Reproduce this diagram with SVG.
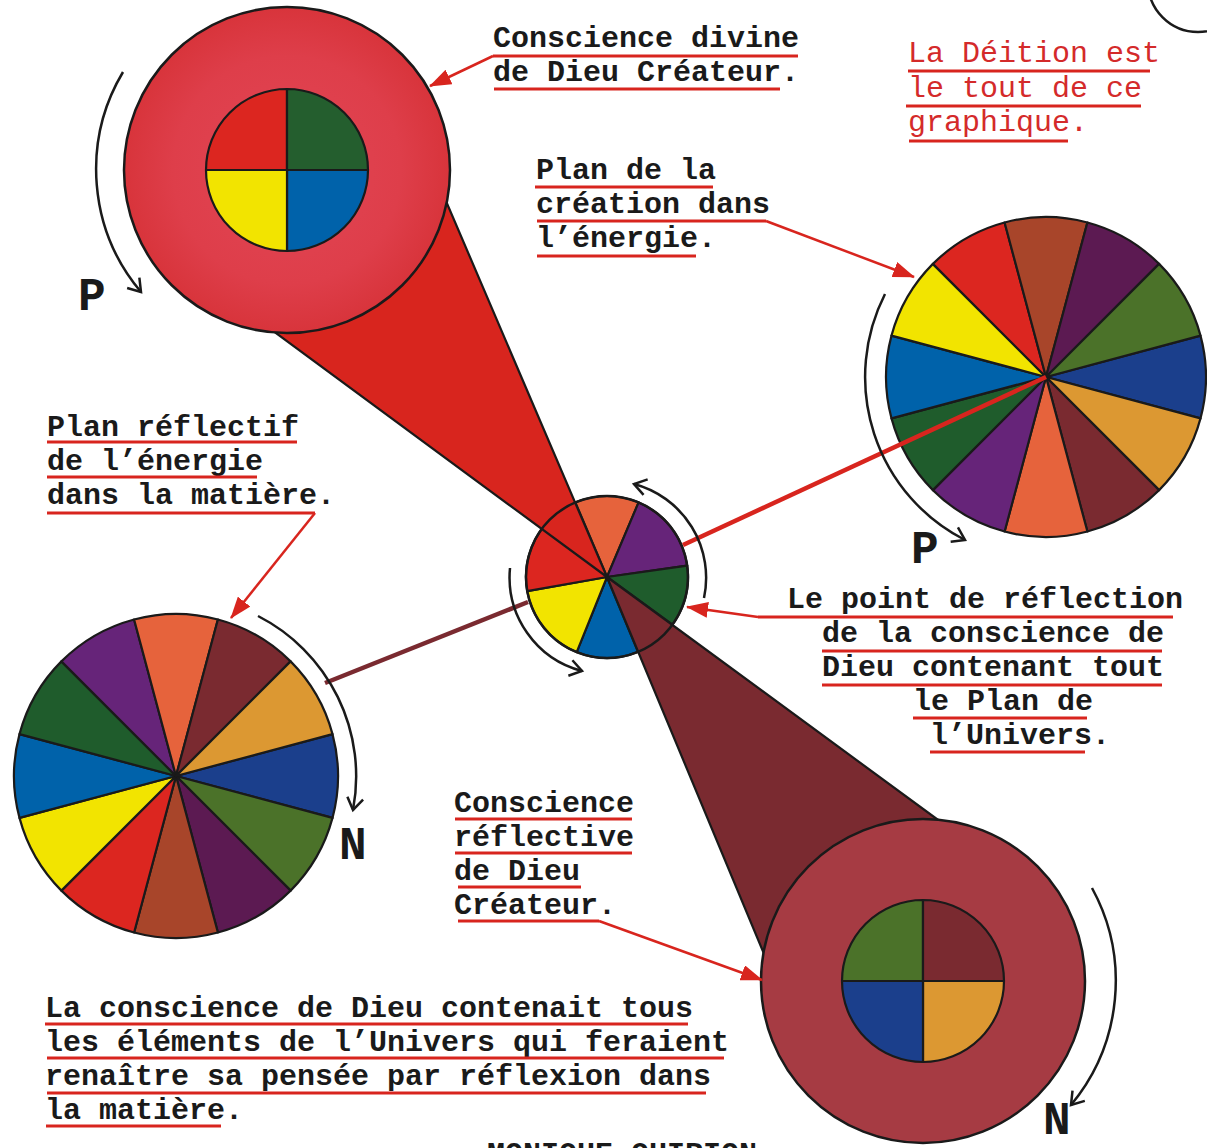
<svg xmlns="http://www.w3.org/2000/svg" width="1207" height="1148" viewBox="0 0 1207 1148">
<style>
.t{font-family:"Liberation Mono","Courier New",monospace;font-size:30px;font-weight:bold;fill:#1a1a1a}
.r{font-family:"Liberation Mono","Courier New",monospace;font-size:30px;fill:#d42a2a}
.lbl{font-family:"Liberation Mono","Courier New",monospace;font-size:46px;font-weight:bold;fill:#1a1a1a}
.u{stroke:#d8251e;stroke-width:3;fill:none}
.ptr{stroke:#d8251e;stroke-width:2.5;fill:none;marker-end:url(#ah)}
.rot{stroke:#1a1a1a;stroke-width:2.5;fill:none;marker-end:url(#ch)}
.s{stroke:#1a1a1a;stroke-width:2.2;stroke-linejoin:round}
</style>
<defs>
<radialGradient id="g1" cx="50%" cy="50%" r="50%">
<stop offset="0" stop-color="#e24656"/>
<stop offset="0.7" stop-color="#de3e4a"/>
<stop offset="1" stop-color="#d8343b"/>
</radialGradient>
<marker id="ah" markerUnits="userSpaceOnUse" markerWidth="22" markerHeight="16" refX="21" refY="8" orient="auto">
<path d="M0,0 L22,8 L0,16 Z" fill="#d8251e"/>
</marker>
<marker id="ch" markerUnits="userSpaceOnUse" markerWidth="20" markerHeight="20" refX="14" refY="10" orient="auto">
<path d="M2,2 L14,10 L2,18" fill="none" stroke="#1a1a1a" stroke-width="2.5"/>
</marker>
</defs>
<rect width="1207" height="1148" fill="#ffffff"/>

<g id="center-point">
<path class="s" fill="#7a2a30" d="M607,577 L672.5,624.6 A81,81 0 0 1 638,651.8 Z"/>
<path class="s" fill="#0062aa" d="M607,577 L638,651.8 A81,81 0 0 1 576.7,652.1 Z"/>
<path class="s" fill="#f2e400" d="M607,577 L576.7,652.1 A81,81 0 0 1 527.2,591.1 Z"/>
<path class="s" fill="#dc2620" d="M607,577 L527.2,591.1 A81,81 0 0 1 575.4,502.4 Z"/>
<path class="s" fill="#e6633c" d="M607,577 L575.4,502.4 A81,81 0 0 1 638.6,502.4 Z"/>
<path class="s" fill="#662479" d="M607,577 L638.6,502.4 A81,81 0 0 1 687.2,565.7 Z"/>
<path class="s" fill="#1f5c2c" d="M607,577 L687.2,565.7 A81,81 0 0 1 672.5,624.6 Z"/>
</g>

<g id="cones">
<polygon class="s" fill="#d8251e" points="607,577 410,117 204,280"/>
<polygon class="s" fill="#7a2a30" points="607,577 1005,869 797,1033"/>
</g>
<circle cx="607" cy="577" r="81" fill="none" stroke="#1a1a1a" stroke-width="2.5"/>

<g id="divine-consciousness">
<circle cx="287" cy="170" r="163" fill="url(#g1)" stroke="#1a1a1a" stroke-width="2.5"/>
<path class="s" fill="#dc2620" d="M287,170 L206,170 A81,81 0 0 1 287,89 Z"/>
<path class="s" fill="#245e2e" d="M287,170 L287,89 A81,81 0 0 1 368,170 Z"/>
<path class="s" fill="#0062aa" d="M287,170 L368,170 A81,81 0 0 1 287,251 Z"/>
<path class="s" fill="#f2e400" d="M287,170 L287,251 A81,81 0 0 1 206,170 Z"/>
</g>

<g id="reflective-consciousness">
<circle cx="923" cy="981" r="162" fill="#a63b43" stroke="#1a1a1a" stroke-width="2.5"/>
<path class="s" fill="#4b7229" d="M923,981 L842,981 A81,81 0 0 1 923,900 Z"/>
<path class="s" fill="#7a2a30" d="M923,981 L923,900 A81,81 0 0 1 1004,981 Z"/>
<path class="s" fill="#dc9832" d="M923,981 L1004,981 A81,81 0 0 1 923,1062 Z"/>
<path class="s" fill="#1b3f8c" d="M923,981 L923,1062 A81,81 0 0 1 842,981 Z"/>
</g>

<g id="creation-plan">
<path class="s" fill="#1b3f8c" d="M1046,377 L1200.5,335.6 A160,160 0 0 1 1200.5,418.4 Z"/>
<path class="s" fill="#dc9832" d="M1046,377 L1200.5,418.4 A160,160 0 0 1 1159.1,490.1 Z"/>
<path class="s" fill="#7a2a30" d="M1046,377 L1159.1,490.1 A160,160 0 0 1 1087.4,531.5 Z"/>
<path class="s" fill="#e6633c" d="M1046,377 L1087.4,531.5 A160,160 0 0 1 1004.6,531.5 Z"/>
<path class="s" fill="#662479" d="M1046,377 L1004.6,531.5 A160,160 0 0 1 932.9,490.1 Z"/>
<path class="s" fill="#1f5c2c" d="M1046,377 L932.9,490.1 A160,160 0 0 1 891.5,418.4 Z"/>
<path class="s" fill="#0062aa" d="M1046,377 L891.5,418.4 A160,160 0 0 1 891.5,335.6 Z"/>
<path class="s" fill="#f2e400" d="M1046,377 L891.5,335.6 A160,160 0 0 1 932.9,263.9 Z"/>
<path class="s" fill="#dc2620" d="M1046,377 L932.9,263.9 A160,160 0 0 1 1004.6,222.5 Z"/>
<path class="s" fill="#a8452a" d="M1046,377 L1004.6,222.5 A160,160 0 0 1 1087.4,222.5 Z"/>
<path class="s" fill="#5c1a52" d="M1046,377 L1087.4,222.5 A160,160 0 0 1 1159.1,263.9 Z"/>
<path class="s" fill="#4b7229" d="M1046,377 L1159.1,263.9 A160,160 0 0 1 1200.5,335.6 Z"/>
</g>

<g id="reflective-plan">
<path class="s" fill="#1b3f8c" d="M176,776 L332.5,734.1 A162,162 0 0 1 332.5,817.9 Z"/>
<path class="s" fill="#4b7229" d="M176,776 L332.5,817.9 A162,162 0 0 1 290.6,890.6 Z"/>
<path class="s" fill="#5c1a52" d="M176,776 L290.6,890.6 A162,162 0 0 1 217.9,932.5 Z"/>
<path class="s" fill="#a8452a" d="M176,776 L217.9,932.5 A162,162 0 0 1 134.1,932.5 Z"/>
<path class="s" fill="#dc2620" d="M176,776 L134.1,932.5 A162,162 0 0 1 61.4,890.6 Z"/>
<path class="s" fill="#f2e400" d="M176,776 L61.4,890.6 A162,162 0 0 1 19.5,817.9 Z"/>
<path class="s" fill="#0062aa" d="M176,776 L19.5,817.9 A162,162 0 0 1 19.5,734.1 Z"/>
<path class="s" fill="#1f5c2c" d="M176,776 L19.5,734.1 A162,162 0 0 1 61.4,661.4 Z"/>
<path class="s" fill="#662479" d="M176,776 L61.4,661.4 A162,162 0 0 1 134.1,619.5 Z"/>
<path class="s" fill="#e6633c" d="M176,776 L134.1,619.5 A162,162 0 0 1 217.9,619.5 Z"/>
<path class="s" fill="#7a2a30" d="M176,776 L217.9,619.5 A162,162 0 0 1 290.6,661.4 Z"/>
<path class="s" fill="#dc9832" d="M176,776 L290.6,661.4 A162,162 0 0 1 332.5,734.1 Z"/>
</g>

<g id="connectors">
<line x1="683" y1="545" x2="1046" y2="377" stroke="#d8251e" stroke-width="4.5"/>
<line x1="528" y1="602" x2="325" y2="683" stroke="#7a2a30" stroke-width="4.5"/>
<path class="ptr" d="M493,56 L430,86"/>
<path class="ptr" d="M766,221 L914,277"/>
<path class="ptr" d="M315,513 L231,618"/>
<path class="ptr" d="M758,617 L687,607"/>
<path class="ptr" d="M599,921 L762,980"/>
<path class="rot" d="M123,72 A190,190 0 0 0 141,292"/>
<path class="rot" d="M885,294 A183,183 0 0 0 965,540"/>
<path class="rot" d="M704,598 A97,97 0 0 0 634,484"/>
<path class="rot" d="M510,568 A97,97 0 0 0 582,671"/>
<path class="rot" d="M258,616 A180,180 0 0 1 353,810"/>
<path class="rot" d="M1092,888 A194,194 0 0 1 1071,1105"/>
<circle cx="1198" cy="-18" r="50" fill="none" stroke="#1a1a1a" stroke-width="2.5"/>
</g>

<g id="labels">
<text class="lbl" x="78" y="310">P</text>
<text class="lbl" x="911" y="563">P</text>
<text class="lbl" x="339" y="859">N</text>
<text class="lbl" x="1043" y="1134">N</text>
</g>

<g id="text-divine">
<text class="t" x="493" y="47">Conscience divine</text>
<text class="t" x="493" y="81">de Dieu Créateur.</text>
<line class="u" x1="493" y1="56" x2="798" y2="56"/>
<line class="u" x1="494" y1="89" x2="780" y2="89"/>
</g>

<g id="text-deition">
<text class="r" x="908" y="62">La Déition est</text>
<text class="r" x="908" y="97">le tout de ce</text>
<text class="r" x="908" y="131">graphique.</text>
<line class="u" x1="908" y1="71" x2="1150" y2="71"/>
<line class="u" x1="906" y1="106" x2="1141" y2="106"/>
<line class="u" x1="909" y1="141" x2="1068" y2="141"/>
</g>

<g id="text-creation">
<text class="t" x="536" y="179">Plan de la</text>
<text class="t" x="536" y="213">création dans</text>
<text class="t" x="536" y="247">l’énergie.</text>
<line class="u" x1="535" y1="187" x2="713" y2="187"/>
<line class="u" x1="537" y1="221" x2="766" y2="221"/>
<line class="u" x1="537" y1="256" x2="696" y2="256"/>
</g>

<g id="text-reflective-plan">
<text class="t" x="47" y="436">Plan réflectif</text>
<text class="t" x="47" y="470">de l’énergie</text>
<text class="t" x="47" y="504">dans la matière.</text>
<line class="u" x1="47" y1="442" x2="297" y2="442"/>
<line class="u" x1="47" y1="477" x2="257" y2="477"/>
<line class="u" x1="47" y1="513" x2="315" y2="513"/>
</g>

<g id="text-point">
<text class="t" x="787" y="608">Le point de réflection</text>
<text class="t" x="822" y="642">de la conscience de</text>
<text class="t" x="822" y="676">Dieu contenant tout</text>
<text class="t" x="913" y="710">le Plan de</text>
<text class="t" x="930" y="744">l’Univers.</text>
<line class="u" x1="758" y1="617" x2="1173" y2="617"/>
<line class="u" x1="822" y1="651" x2="1162" y2="651"/>
<line class="u" x1="822" y1="685" x2="1162" y2="685"/>
<line class="u" x1="913" y1="718" x2="1087" y2="718"/>
<line class="u" x1="930" y1="752" x2="1085" y2="752"/>
</g>

<g id="text-reflective">
<text class="t" x="454" y="812">Conscience</text>
<text class="t" x="454" y="846">réflective</text>
<text class="t" x="454" y="880">de Dieu</text>
<text class="t" x="454" y="914">Créateur.</text>
<line class="u" x1="455" y1="819" x2="632" y2="819"/>
<line class="u" x1="455" y1="853" x2="632" y2="853"/>
<line class="u" x1="458" y1="887" x2="581" y2="887"/>
<line class="u" x1="458" y1="921" x2="599" y2="921"/>
</g>

<g id="text-bottom">
<text class="t" x="45" y="1017">La conscience de Dieu contenait tous</text>
<text class="t" x="45" y="1051">les éléments de l’Univers qui feraient</text>
<text class="t" x="45" y="1085">renaître sa pensée par réflexion dans</text>
<text class="t" x="45" y="1119">la matière.</text>
<line class="u" x1="45" y1="1024" x2="688" y2="1024"/>
<line class="u" x1="47" y1="1058" x2="724" y2="1058"/>
<line class="u" x1="47" y1="1093" x2="706" y2="1093"/>
<line class="u" x1="46" y1="1126" x2="221" y2="1126"/>
<text class="t" x="487" y="1163">MONIQUE QUIRION</text>
</g>
</svg>
